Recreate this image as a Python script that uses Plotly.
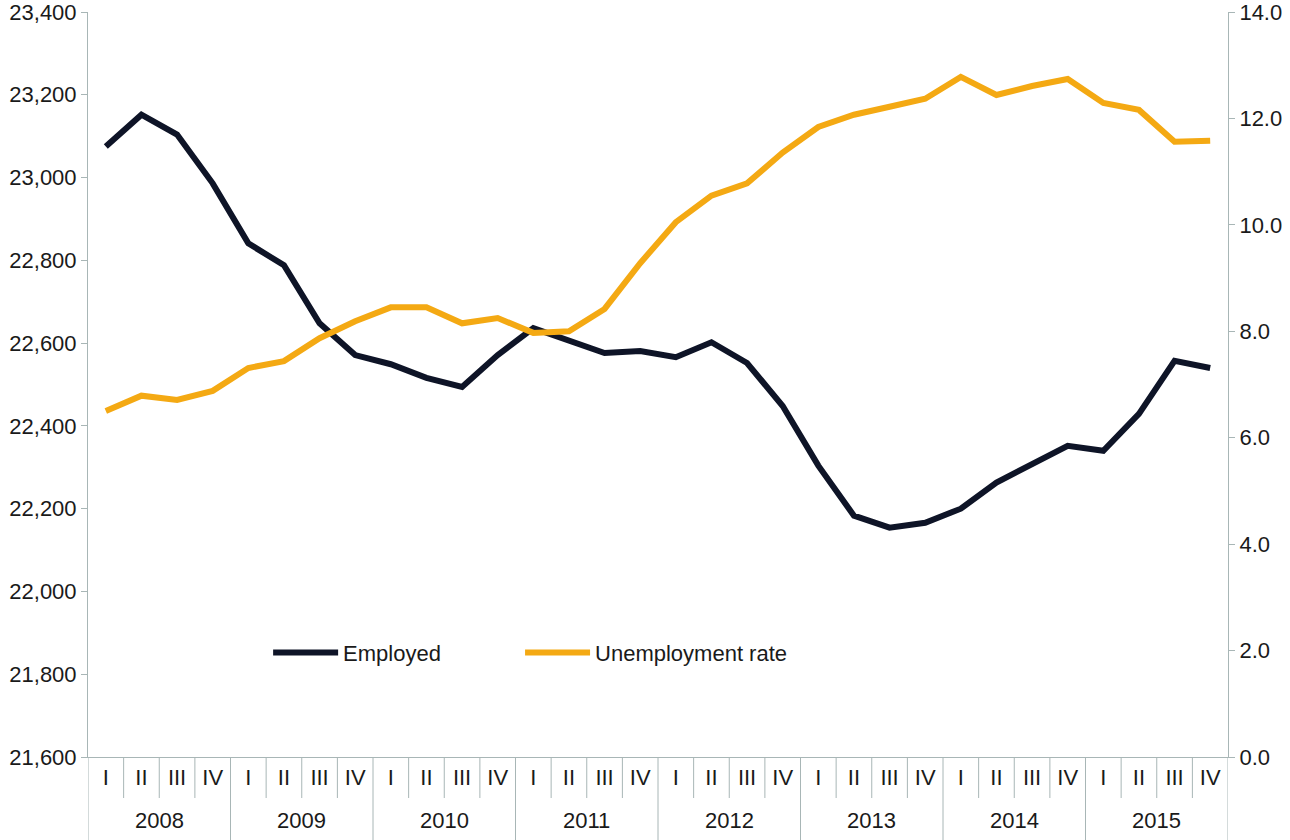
import plotly.graph_objects as go

years = ["2008", "2009", "2010", "2011", "2012", "2013", "2014", "2015"]
quarters = ["I", "II", "III", "IV"]

# thousands of persons
employed = [23075, 23152, 23104, 22986, 22841, 22788, 22648, 22571,
            22549, 22516, 22494, 22571, 22636, 22605, 22576, 22581,
            22566, 22602, 22552, 22448, 22304, 22183, 22154, 22166,
            22200, 22263, 22306, 22352, 22340, 22429, 22557, 22540]

# percent
unemployment_rate = [6.50, 6.79, 6.71, 6.88, 7.31, 7.44, 7.87, 8.19,
                     8.45, 8.45, 8.15, 8.25, 7.97, 8.00, 8.42, 9.28,
                     10.05, 10.55, 10.78, 11.36, 11.84, 12.07, 12.22, 12.37,
                     12.78, 12.44, 12.61, 12.74, 12.29, 12.16, 11.56, 11.58]

periods = [y + " " + q for y in years for q in quarters]
quarter_labels = [q for y in years for q in quarters]

AXIS_GREY = "#A8B6B6"
FONT = "Liberation Sans, Arial, sans-serif"

W, H = 1290, 840
M_L, M_R, M_T, M_B = 88, 62, 12, 83
plot_h = H - M_T - M_B

fig = go.Figure()

fig.add_trace(go.Scatter(
    x=periods, y=employed, name="Employed",
    mode="lines", line=dict(color="#0E1427", width=6),
    legend="legend",
))
fig.add_trace(go.Scatter(
    x=periods, y=unemployment_rate, name="Unemployment rate",
    mode="lines", line=dict(color="#F4A913", width=6), yaxis="y2",
    legend="legend2",
))

# quarter separators and year dividers below the x axis
for k in range(len(periods) + 1):
    is_year = k % 4 == 0
    fig.add_shape(
        type="line", xref="x", yref="paper",
        x0=k - 0.5, x1=k - 0.5,
        y0=0, y1=-(M_B + 2) / plot_h if is_year else -41 / plot_h,
        line=dict(color=AXIS_GREY, width=1),
    )

# year labels
for i, yr in enumerate(years):
    fig.add_annotation(
        x=4 * i + 1.5, xref="x", y=-63 / plot_h, yref="paper",
        text=yr, showarrow=False, yanchor="middle",
        font=dict(size=22, color="#1a1a1a"),
    )

legend_style = dict(
    orientation="h", y=0.14, xanchor="left", yanchor="middle",
    font=dict(size=22), bgcolor="rgba(0,0,0,0)", itemwidth=65,
)

fig.update_layout(
    width=W, height=H,
    margin=dict(l=M_L, r=M_R, t=M_T, b=M_B),
    paper_bgcolor="white", plot_bgcolor="white",
    font=dict(family=FONT, size=22, color="#1a1a1a"),
    showlegend=True,
    legend=dict(x=0.158, **legend_style),
    legend2=dict(x=0.379, **legend_style),
    xaxis=dict(
        type="category", categoryorder="array", categoryarray=periods,
        range=[-0.5, len(periods) - 0.5],
        tickmode="array", tickvals=periods, ticktext=quarter_labels,
        showline=True, linecolor=AXIS_GREY, linewidth=1,
        ticks="outside", ticklen=1, tickcolor="rgba(0,0,0,0)",
        showgrid=False, zeroline=False, automargin=False,
    ),
    yaxis=dict(
        range=[21600, 23400], dtick=200, tickformat=",",
        showline=True, linecolor=AXIS_GREY, linewidth=1,
        ticks="outside", ticklen=6, tickcolor=AXIS_GREY,
        ticklabeloverflow="allow", automargin=False,
        showgrid=False, zeroline=False,
    ),
    yaxis2=dict(
        range=[0, 14], dtick=2, tickformat=".1f",
        overlaying="y", side="right",
        showline=True, linecolor=AXIS_GREY, linewidth=1,
        ticks="outside", ticklen=6, tickcolor=AXIS_GREY,
        ticklabeloverflow="allow", automargin=False,
        showgrid=False, zeroline=False,
    ),
)

# drop the default 8px body margin so the figure fills the window
fig.write_html("out.html", config={"displayModeBar": False},
               post_script="document.body.style.margin = '0';")
